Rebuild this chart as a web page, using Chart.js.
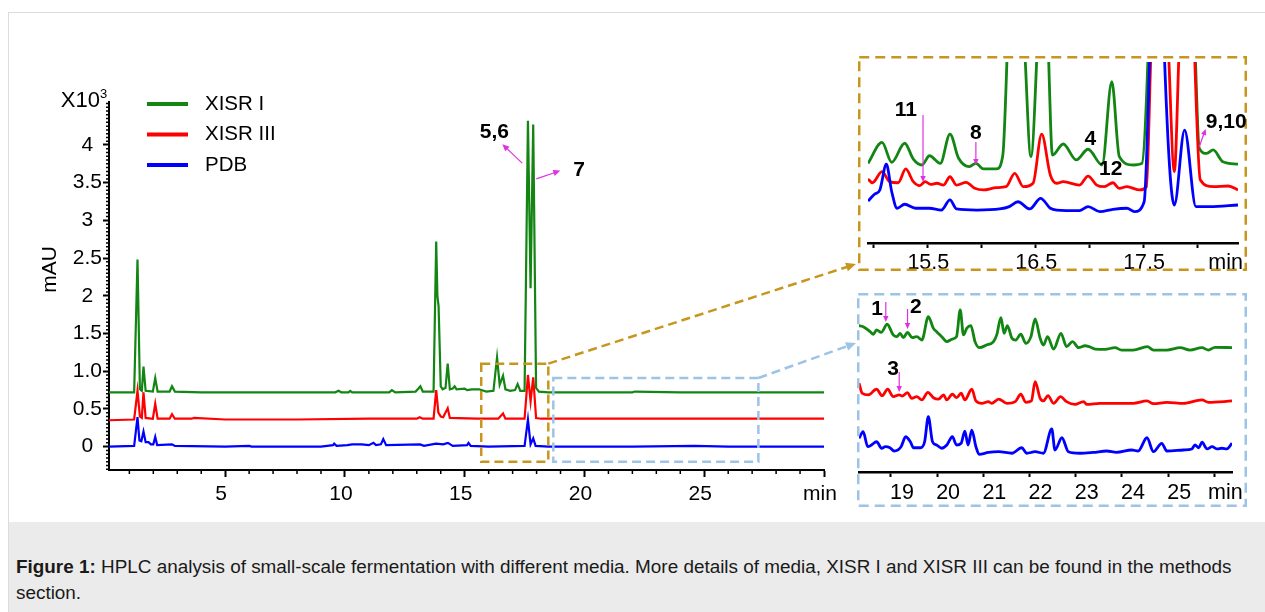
<!DOCTYPE html>
<html>
<head>
<meta charset="utf-8">
<script src="https://cdn.jsdelivr.net/npm/chart.js@4.4.1/dist/chart.umd.min.js"></script>
<style>
  body { margin: 0; background: #fff; }
  #fig { position: relative; width: 1265px; height: 612px; overflow: hidden; font-family: "Liberation Sans", Arial, sans-serif; }
  #frame { position: absolute; left: 8px; top: 12px; width: 1270px; height: 620px; border-left: 1px solid #dcdcdc; border-top: 1px solid #dcdcdc; }
  canvas { position: absolute; }
  #main { left: 0; top: 0; }
  #zoomA { left: 858px; top: 56px; }
  #zoomB { left: 857px; top: 293px; }
  #caption { position: absolute; left: 9px; top: 522px; width: 1256px; height: 90px; background: #ebebeb;
             box-sizing: border-box; padding: 32px 0 0 7px; font-size: 18.9px; line-height: 26px; color: #1a1a1a; white-space: nowrap; }
</style>
</head>
<body>
<div id="fig">
  <div id="frame"></div>
  <canvas id="main" width="1265" height="520"></canvas>
  <canvas id="zoomA" width="389" height="215"></canvas>
  <canvas id="zoomB" width="390" height="214"></canvas>
  <div id="caption"><b>Figure 1:</b> HPLC analysis of small-scale fermentation with different media. More details of media, XISR I and XISR III can be found in the methods<br>section.</div>
</div>
<script>
const FONT = '"Liberation Sans", Arial, sans-serif';
const GREEN = '#138513';
const RED = '#ff0000';
const BLUE = '#0000ff';
const GOLD = '#c8961e';
const SKY = '#9dc3e6';
const MAGENTA = '#e030e0';

const seriesNames = ['XISR I', 'XISR III', 'PDB'];

// full run: time (min), absorbance (x10^3 mAU)
const xisr1Main = [[0.15,0.72],[1.2,0.72],[1.34,2.48],[1.44,0.76],[1.52,0.74],[1.59,1.06],[1.68,0.74],[1.98,0.73],[2.08,0.91],[2.18,0.73],
  [2.68,0.73],[2.78,0.80],[2.9,0.73],[4,0.72],[6,0.72],[8,0.72],[9.6,0.72],[9.73,0.74],[9.85,0.72],[10.15,0.72],[10.22,0.74],[10.3,0.72],
  [11.85,0.72],[11.96,0.75],[12.1,0.72],[12.95,0.73],[13.07,0.77],[13.15,0.80],[13.25,0.73],[13.7,0.73],[13.81,2.72],[13.86,2.0],[13.91,1.86],
  [14.0,0.80],[14.08,0.76],[14.2,0.78],[14.29,1.10],[14.38,0.76],[14.5,0.77],[14.58,0.80],[14.66,0.76],[15.0,0.77],[15.1,0.75],[15.3,0.76],
  [15.6,0.76],[15.9,0.73],[16.2,0.74],[16.35,1.18],[16.46,0.82],[16.6,0.94],[16.7,0.76],[16.9,0.74],[17.1,0.75],[17.21,0.83],[17.32,0.74],
  [17.5,0.74],[17.64,4.32],[17.75,2.1],[17.86,4.27],[17.98,0.78],[18.1,0.73],[18.5,0.72],[20,0.72],[22,0.72],[22.1,0.73],[24,0.72],[27,0.72],[30,0.72]];
const xisr3Main = [[0.15,0.35],[1.2,0.36],[1.34,0.74],[1.44,0.40],[1.52,0.38],[1.59,0.72],[1.68,0.38],[1.98,0.37],[2.08,0.57],[2.18,0.37],
  [2.68,0.37],[2.78,0.43],[2.9,0.37],[3.6,0.37],[3.7,0.38],[5,0.36],[8,0.36],[11,0.37],[13.0,0.37],[13.12,0.39],[13.25,0.37],[13.7,0.37],
  [13.81,0.75],[13.9,0.45],[14.0,0.40],[14.1,0.39],[14.29,0.51],[14.38,0.38],[15.5,0.37],[16.4,0.37],[16.6,0.44],[16.7,0.37],[17.5,0.37],
  [17.64,0.95],[17.75,0.6],[17.86,0.92],[17.98,0.38],[18.2,0.37],[30,0.37]];
const pdbMain = [[0.15,0.0],[1.2,0.01],[1.34,0.39],[1.42,0.08],[1.5,0.07],[1.59,0.20],[1.68,0.06],[1.8,0.06],[1.9,0.03],[2.0,0.03],[2.08,0.13],
  [2.16,0.02],[2.78,0.03],[2.9,0.01],[5,0.0],[6.0,0.01],[6.1,0.0],[9.0,0.0],[9.5,0.02],[9.55,0.04],[9.65,0.01],[10.1,0.02],[10.3,0.03],
  [10.7,0.03],[11.0,0.02],[11.19,0.05],[11.3,0.02],[11.5,0.03],[11.6,0.10],[11.72,0.02],[13.14,0.03],[13.3,0.01],[13.8,0.04],[14.1,0.03],
  [14.3,0.05],[14.5,0.01],[15.1,0.02],[15.16,0.05],[15.25,0.01],[16.0,0.0],[17.5,0.01],[17.64,0.36],[17.75,0.03],[17.86,0.11],[17.96,0.01],
  [18.5,0.0],[20,0.0],[22,0.0],[24.6,0.01],[26,0.0],[30,0.0]];

const mainXLabels = ['5', '10', '15', '20', '25', 'min'];
const yTickLabels = ['0', '0.5', '1.0', '1.5', '2', '2.5', '3', '3.5', '4'];

// zoom 1: 14.95-18.38 min (relative signal, offset per trace)
const xisr1ZoomA = [[14.95,44.0],[15.08,55.6],[15.17,44.6],[15.29,55.1],[15.37,46.4],[15.45,43.1],[15.52,48.2],[15.62,44.0],[15.71,60.2],
  [15.79,46.8],[15.89,42.2],[15.95,44.0],[16.02,40.9],[16.14,40.9],[16.20,48.6],[16.25,120],[16.31,200],[16.40,110],[16.46,47.7],[16.52,110],
  [16.57,200],[16.62,110],[16.66,48.5],[16.76,54.7],[16.88,45.9],[16.99,51.8],[17.12,43.1],[17.21,89.1],[17.28,47.7],[17.41,43.1],[17.49,44.0],
  [17.55,110],[17.63,300],[17.73,200],[17.84,300],[17.98,110],[18.02,52.5],[18.09,49.5],[18.15,51.4],[18.24,44.9],[18.38,43.6]];
const xisr3ZoomA = [[14.95,35.4],[14.99,33.3],[15.08,39.4],[15.15,33.9],[15.23,33.3],[15.30,40.9],[15.37,33.9],[15.43,31.7],[15.48,33.9],
  [15.53,32.4],[15.59,33.0],[15.65,32.0],[15.71,36.6],[15.77,32.0],[15.86,33.5],[15.94,30.2],[16.02,29.3],[16.14,30.6],[16.23,31.1],[16.31,38.5],
  [16.39,31.1],[16.48,33.0],[16.56,60.1],[16.64,37.6],[16.70,33.0],[16.76,33.9],[16.91,32.0],[16.99,37.0],[17.07,32.0],[17.14,31.1],[17.22,33.3],
  [17.28,30.2],[17.35,31.1],[17.47,29.3],[17.53,31.0],[17.57,100],[17.65,260],[17.74,100],[17.79,39.4],[17.83,100],[17.91,260],[17.98,100],
  [18.03,35.0],[18.15,31.1],[18.29,31.5],[18.38,29.3]];
const pdbZoomA = [[14.95,23.2],[15.01,26.9],[15.06,29.3],[15.12,43.5],[15.17,28.3],[15.22,19.2],[15.29,21.4],[15.39,19.2],[15.52,19.2],
  [15.63,18.2],[15.71,23.8],[15.77,18.8],[15.96,18.2],[16.17,18.8],[16.26,20.1],[16.34,22.8],[16.45,18.8],[16.55,24.7],[16.64,19.2],[16.70,18.2],
  [16.91,17.9],[16.99,20.1],[17.10,17.3],[17.22,18.6],[17.35,19.2],[17.42,17.3],[17.51,22.8],[17.56,100],[17.63,260],[17.70,100],[17.79,21.0],
  [17.885,62.4],[17.99,20.1],[18.12,20.1],[18.38,21.0]];
const zoomATickLabels = ['15.5', '16.5', '17.5'];

// zoom 2: 18.31-26.38 min
const xisr1ZoomB = [[18.30,85.1],[18.40,84.5],[18.55,81.6],[18.62,80.1],[18.69,82.6],[18.79,81.2],[18.92,85.9],[19.05,79.7],[19.13,78.7],
  [19.20,80.6],[19.27,78.1],[19.36,81.2],[19.46,78.1],[19.56,78.7],[19.67,76.7],[19.81,90.3],[19.92,83.5],[19.99,81.6],[20.10,78.7],[20.21,75.8],
  [20.33,77.3],[20.42,78.7],[20.50,94.2],[20.57,79.7],[20.64,83.5],[20.73,85.1],[20.82,75.8],[20.91,72.3],[21.07,73.8],[21.22,75.8],[21.29,79.7],
  [21.38,89.7],[21.45,80.6],[21.52,85.1],[21.62,77.7],[21.70,76.7],[21.81,80.1],[21.92,74.8],[22.03,78.7],[22.12,89.0],[22.23,77.7],[22.30,73.8],
  [22.39,78.7],[22.52,71.4],[22.68,80.6],[22.80,72.9],[22.93,75.8],[23.06,72.3],[23.20,73.4],[23.29,72.9],[23.42,71.5],[23.63,71.3],[23.85,72.3],
  [23.99,70.9],[24.24,70.9],[24.55,72.9],[24.68,70.9],[24.97,70.9],[25.26,72.3],[25.47,70.9],[25.73,72.3],[25.87,70.9],[26.01,72.5],[26.38,72.3]];
const xisr3ZoomB = [[18.31,51.6],[18.38,45.8],[18.51,44.8],[18.69,48.1],[18.81,44.4],[18.93,48.1],[19.05,43.8],[19.18,44.8],[19.25,44.2],
  [19.36,46.1],[19.45,42.8],[19.56,43.8],[19.67,41.9],[19.80,46.3],[19.92,43.2],[20.03,42.4],[20.14,44.8],[20.21,41.9],[20.33,45.2],[20.42,43.2],
  [20.52,45.8],[20.60,41.9],[20.75,48.1],[20.84,41.3],[20.97,39.9],[21.11,40.9],[21.18,39.9],[21.33,42.4],[21.51,39.9],[21.69,40.9],[21.81,45.2],
  [21.92,40.5],[22.04,41.3],[22.12,52.5],[22.23,42.8],[22.30,41.3],[22.40,44.4],[22.52,39.9],[22.67,43.8],[22.80,40.9],[22.98,39.3],[23.17,40.9],
  [23.24,39.3],[23.52,39.9],[23.88,39.9],[24.24,39.9],[24.54,41.3],[24.68,39.7],[24.97,40.5],[25.33,39.9],[25.73,41.9],[25.87,40.5],[26.38,41.3]];
const pdbZoomB = [[18.31,19.6],[18.40,23.4],[18.50,14.7],[18.58,15.7],[18.69,17.6],[18.80,13.8],[18.88,14.7],[18.98,14.1],[19.07,12.2],
  [19.22,14.7],[19.32,20.5],[19.42,17.6],[19.49,14.1],[19.64,14.1],[19.73,17.6],[19.81,32.2],[19.90,17.6],[19.99,15.7],[20.10,13.8],[20.21,15.7],
  [20.33,20.5],[20.42,15.7],[20.52,16.7],[20.60,23.8],[20.67,15.7],[20.75,24.4],[20.84,14.7],[20.91,10.3],[21.11,11.4],[21.33,11.8],[21.62,10.9],
  [21.83,14.1],[21.94,10.9],[22.12,11.8],[22.30,10.9],[22.48,25.0],[22.55,12.8],[22.70,19.9],[22.84,11.8],[23.09,10.9],[23.38,11.4],[23.67,12.2],
  [23.88,11.4],[24.21,12.8],[24.35,12.2],[24.54,19.9],[24.68,11.8],[24.86,16.7],[24.97,12.2],[25.33,12.8],[25.51,13.4],[25.58,15.7],[25.66,14.1],
  [25.73,17.3],[25.84,13.4],[25.95,14.7],[26.06,13.4],[26.16,13.8],[26.27,13.4],[26.38,16.7]];
const zoomBTickLabels = ['19', '20', '21', '22', '23', '24', '25', 'min'];

// windows marked on the full run
const windowA = { from: 15.69, to: 18.49, top: 1.10, bottom: -0.20 };
const windowB = { from: 18.70, to: 27.26, top: 0.91, bottom: -0.20 };

// peak labels: text position and arrow (from x,y to x,y) in data units
const mainNotes = [
  { text: '5,6', at: [16.24, 4.17], arrow: [17.40, 3.76, 16.57, 4.01] },
  { text: '7', at: [19.78, 3.67], arrow: [17.99, 3.55, 18.99, 3.66] }
];
const zoomANotes = [
  { text: '11', at: [15.30, 73.5], arrow: [15.46, 70.7, 15.46, 33.7] },
  { text: '8', at: [15.95, 60.8], arrow: [15.95, 55.8, 15.95, 43.1] },
  { text: '4', at: [17.01, 57.5] },
  { text: '12', at: [17.20, 40.9] },
  { text: '9,10', at: [18.27, 66.9], arrow: [18.02, 53.0, 18.08, 63.0] }
];
const zoomBNotes = [
  { text: '1', at: [18.70, 94.8], arrow: [18.89, 98.8, 18.89, 87.2] },
  { text: '2', at: [19.54, 95.9], arrow: [19.36, 94.8, 19.36, 83.1] },
  { text: '3', at: [19.05, 59.9], arrow: [19.18, 58.1, 19.18, 46.5] }
];

function drawText(ctx, str, x, y, size, opts = {}) {
  ctx.save();
  ctx.font = (opts.bold ? 'bold ' : '') + size + 'px ' + FONT;
  ctx.fillStyle = opts.color || '#000';
  ctx.textAlign = opts.align || 'center';
  ctx.textBaseline = 'middle';
  ctx.fillText(str, x, y);
  ctx.restore();
}

function arrow(ctx, x1, y1, x2, y2, color, width, head, dash) {
  const ang = Math.atan2(y2 - y1, x2 - x1);
  const c = Math.cos(ang), s = Math.sin(ang);
  ctx.save();
  ctx.strokeStyle = color;
  ctx.fillStyle = color;
  ctx.lineWidth = width;
  ctx.setLineDash(dash || []);
  ctx.beginPath();
  ctx.moveTo(x1, y1);
  ctx.lineTo(x2 - c * head * 0.8, y2 - s * head * 0.8);
  ctx.stroke();
  ctx.setLineDash([]);
  ctx.beginPath();
  ctx.moveTo(x2, y2);
  ctx.lineTo(x2 - head * c + head * 0.45 * s, y2 - head * s - head * 0.45 * c);
  ctx.lineTo(x2 - head * c - head * 0.45 * s, y2 - head * s + head * 0.45 * c);
  ctx.closePath();
  ctx.fill();
  ctx.restore();
}

function series(points, color, label, order, width, smooth) {
  return {
    label,
    data: points.map(p => ({ x: p[0], y: p[1] })),
    borderColor: color,
    backgroundColor: color,
    borderWidth: width,
    pointRadius: 0,
    fill: false,
    order,
    cubicInterpolationMode: smooth ? 'monotone' : 'default'
  };
}

const mainDecor = {
  id: 'mainDecor',
  afterDraw(chart) {
    const { ctx, chartArea: a, scales: { x, y } } = chart;
    ctx.save();
    ctx.strokeStyle = '#000';
    ctx.lineWidth = 1.5;
    ctx.beginPath();
    for (let t = 1; t < 30; t++) {
      if (t % 5 === 0) continue;
      const px = x.getPixelForValue(t);
      ctx.moveTo(px, a.bottom);
      ctx.lineTo(px, a.bottom + 4);
    }
    for (let k = -6; k <= 91; k++) {
      if (k >= 0 && k <= 80 && k % 10 === 0) continue;
      const py = y.getPixelForValue(k / 20);
      ctx.moveTo(a.left - 3, py);
      ctx.lineTo(a.left, py);
    }
    ctx.stroke();
    ctx.restore();

    drawText(ctx, 'X10', a.left - 9, a.top - 1, 22, { align: 'right' });
    drawText(ctx, '3', a.left - 9, a.top - 8, 13, { align: 'left' });
    ctx.save();
    ctx.translate(50, y.getPixelForValue(2.35));
    ctx.rotate(-Math.PI / 2);
    drawText(ctx, 'mAU', 0, 0, 21);
    ctx.restore();

    // legend
    chart.data.datasets.forEach((ds, i) => {
      const ly = a.top + 2 + i * 30.5;
      ctx.save();
      ctx.strokeStyle = ds.borderColor;
      ctx.lineWidth = 4;
      ctx.beginPath();
      ctx.moveTo(a.left + 38, ly);
      ctx.lineTo(a.left + 79, ly);
      ctx.stroke();
      ctx.restore();
      drawText(ctx, ds.label, a.left + 96, ly, 20.5, { align: 'left' });
    });

    mainNotes.forEach(n => {
      drawText(ctx, n.text, x.getPixelForValue(n.at[0]), y.getPixelForValue(n.at[1]), 21, { bold: true });
      arrow(ctx, x.getPixelForValue(n.arrow[0]), y.getPixelForValue(n.arrow[1]),
        x.getPixelForValue(n.arrow[2]), y.getPixelForValue(n.arrow[3]), MAGENTA, 1.2, 7);
    });

    // windows and connectors to the zoom panels
    [[windowA, GOLD, 856, 264], [windowB, SKY, 856, 343]].forEach(([w, color, tx, ty]) => {
      const x1 = x.getPixelForValue(w.from), x2 = x.getPixelForValue(w.to);
      const y1 = y.getPixelForValue(w.top), y2 = y.getPixelForValue(w.bottom);
      ctx.save();
      ctx.strokeStyle = color;
      ctx.lineWidth = 2.5;
      ctx.setLineDash([9, 5]);
      ctx.strokeRect(x1, y1, x2 - x1, y2 - y1);
      ctx.restore();
      arrow(ctx, x2, y1, tx, ty, color, 2.5, 10, [9, 5]);
    });
  }
};

function insetDecor(boxColor, notes, endLabel) {
  return {
    id: 'insetDecor',
    afterDraw(chart) {
      const { ctx, width, height, scales: { x, y } } = chart;
      ctx.save();
      ctx.strokeStyle = boxColor;
      ctx.lineWidth = 2.5;
      ctx.setLineDash([10, 6]);
      ctx.strokeRect(1.25, 1.25, width - 2.5, height - 2.5);
      ctx.restore();
      notes.forEach(n => {
        drawText(ctx, n.text, x.getPixelForValue(n.at[0]), y.getPixelForValue(n.at[1]), 21, { bold: true });
        if (n.arrow) {
          arrow(ctx, x.getPixelForValue(n.arrow[0]), y.getPixelForValue(n.arrow[1]),
            x.getPixelForValue(n.arrow[2]), y.getPixelForValue(n.arrow[3]), MAGENTA, 1.2, 6);
        }
      });
      if (endLabel) drawText(ctx, endLabel, width - 4, x.top + 20, 21.5, { align: 'right' });
    }
  };
}

const insetFont = { family: FONT, size: 21.5 };
const noPopups = { legend: { display: false }, tooltip: { enabled: false } };

new Chart(document.getElementById('main'), {
  type: 'line',
  data: {
    datasets: [
      series(xisr1Main, GREEN, seriesNames[0], 2, 2.2, false),
      series(xisr3Main, RED, seriesNames[1], 1, 2.2, false),
      series(pdbMain, BLUE, seriesNames[2], 0, 2.2, false)
    ]
  },
  options: {
    responsive: false,
    animation: false,
    layout: { padding: { left: 0, top: 102, right: 441, bottom: 0 } },
    plugins: noPopups,
    scales: {
      x: {
        type: 'linear', min: 0.15, max: 30,
        afterFit(s) { s.height = 50; },
        ticks: { stepSize: 5, includeBounds: false, autoSkip: false, maxRotation: 0, padding: 5, labelOffset: -4,
          color: '#000', font: { family: FONT, size: 21 }, callback: (v, i) => mainXLabels[i] },
        grid: { drawOnChartArea: false, tickLength: 7, tickWidth: 2, tickColor: '#000' },
        border: { color: '#000', width: 2 }
      },
      y: {
        min: -0.31, max: 4.57,
        afterFit(s) { s.width = 109; },
        afterBuildTicks(s) { s.ticks = s.ticks.filter(t => t.value >= 0 && t.value <= 4); },
        ticks: { stepSize: 0.5, includeBounds: false, crossAlign: 'center', padding: 1,
          color: '#000', font: { family: FONT, size: 21 }, callback: (v, i) => yTickLabels[i] },
        grid: { drawOnChartArea: false, tickLength: 6, tickWidth: 2, tickColor: '#000' },
        border: { color: '#000', width: 2 }
      }
    }
  },
  plugins: [mainDecor]
});

new Chart(document.getElementById('zoomA'), {
  type: 'line',
  data: {
    datasets: [
      series(xisr1ZoomA, GREEN, seriesNames[0], 2, 2.8, true),
      series(xisr3ZoomA, RED, seriesNames[1], 1, 2.8, true),
      series(pdbZoomA, BLUE, seriesNames[2], 0, 2.8, true)
    ]
  },
  options: {
    responsive: false,
    animation: false,
    layout: { padding: { left: 10, top: 6, right: 9, bottom: 0 } },
    plugins: noPopups,
    scales: {
      x: {
        type: 'linear', min: 14.95, max: 18.38,
        afterFit(s) { s.height = 28; },
        ticks: { stepSize: 0.5, includeBounds: false, autoSkip: false, maxRotation: 0, padding: 2, labelOffset: 1,
          color: '#000', font: insetFont,
          callback: v => zoomATickLabels.find(l => Math.abs(parseFloat(l) - v) < 1e-6) || '' },
        grid: { drawOnChartArea: false, tickLength: 5, tickWidth: 2, tickColor: '#000' },
        border: { color: '#000', width: 2.5 }
      },
      y: { display: false, min: 0, max: 100 }
    }
  },
  plugins: [insetDecor(GOLD, zoomANotes, 'min')]
});

new Chart(document.getElementById('zoomB'), {
  type: 'line',
  data: {
    datasets: [
      series(xisr1ZoomB, GREEN, seriesNames[0], 2, 2.8, true),
      series(xisr3ZoomB, RED, seriesNames[1], 1, 2.8, true),
      series(pdbZoomB, BLUE, seriesNames[2], 0, 2.8, true)
    ]
  },
  options: {
    responsive: false,
    animation: false,
    layout: { padding: { left: 2, top: 7, right: 15, bottom: 0 } },
    plugins: noPopups,
    scales: {
      x: {
        type: 'linear', min: 18.31, max: 26.38,
        afterFit(s) { s.height = 35; },
        ticks: { stepSize: 1, includeBounds: false, autoSkip: false, maxRotation: 0, padding: 3, labelOffset: 11,
          color: '#000', font: insetFont, callback: (v, i) => zoomBTickLabels[i] },
        grid: { drawOnChartArea: false, tickLength: 5, tickWidth: 2, tickColor: '#000' },
        border: { color: '#000', width: 2.5 }
      },
      y: { display: false, min: 0, max: 100 }
    }
  },
  plugins: [insetDecor(SKY, zoomBNotes, null)]
});
</script>
</body>
</html>
